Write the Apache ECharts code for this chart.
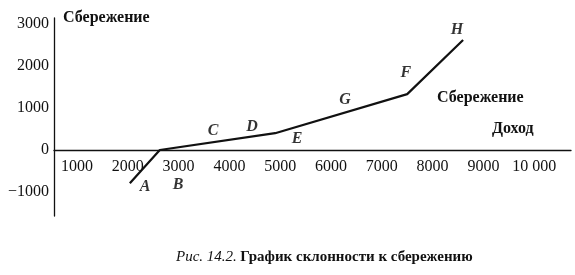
<!DOCTYPE html>
<html><head><meta charset="utf-8">
<script src="https://cdn.jsdelivr.net/npm/echarts@6/dist/echarts.min.js"></script>
<style>html,body{margin:0;padding:0;background:#fff}#c{width:575px;height:275px}</style>
</head><body><div id="c"></div>
<script>
// Data
const incomeX = [2040, 2630, 4900, 7500, 8600];
const savingY = [-790, 0, 400, 1330, 2620];
const pointLetters = ['A','B','C','D','E','F','G','H'];
const letterX = [2340, 2990, 3680, 4445, 5330, 7475, 6275, 8480];
const letterY = [-880, -835, 450, 550, 260, 1830, 1190, 2860];
const xTicks = [1000,2000,3000,4000,5000,6000,7000,8000,9000,10000];
const yTicks = [-1000,0,1000,2000,3000];
const yTitle = 'Сбережение';
const lineName = 'Сбережение';
const xTitle = 'Доход';
const captionItalic = 'Рис. 14.2.';
const captionBold = 'График склонности к сбережению';

const serif = '"Liberation Serif","DejaVu Serif",serif';
const Y_MIN = -1571, Y_MAX = 3143, GRID_H = 198;
const chart = echarts.init(document.getElementById('c'));
chart.setOption({
  animation:false,
  backgroundColor:'#fff',
  grid:{left:54, top:18, width:517, height:GRID_H, containLabel:false},
  xAxis:{type:'value', min:547, max:10724,
    offset: -Math.round(GRID_H * (0 - Y_MIN) / (Y_MAX - Y_MIN)),
    axisLine:{onZero:false, lineStyle:{color:'#111', width:1.3}},
    axisTick:{show:false}, splitLine:{show:false},
    axisLabel:{customValues:xTicks, margin:9, color:'#111', fontFamily:serif, fontSize:16,
      formatter:v=> v>=10000 ? (String(v).slice(0,-3)+' '+String(v).slice(-3)) : String(v)}},
  yAxis:{type:'value', min:Y_MIN, max:Y_MAX,
    axisLine:{show:true, onZero:false, lineStyle:{color:'#111', width:1.3}},
    axisTick:{show:false}, splitLine:{show:false},
    axisLabel:{customValues:yTicks, margin:5, color:'#111', fontFamily:serif, fontSize:16,
      formatter:v=> v<0 ? '\u2212'+Math.abs(v) : String(v)}},
  series:[
    {type:'line', data:incomeX.map((x,i)=>[x,savingY[i]]), symbol:'none',
      lineStyle:{color:'#111', width:2.2}, silent:true},
    {type:'scatter', data:letterX.map((x,i)=>({value:[x,letterY[i]], name:pointLetters[i]})),
      symbolSize:0, itemStyle:{color:'rgba(0,0,0,0)'}, silent:true,
      label:{show:true, position:'inside', formatter:p=>p.name, color:'#000',
        fontFamily:serif, fontStyle:'italic', fontWeight:'bold', fontSize:16}}
  ],
  graphic:[
    {type:'text', left:63, top:10, style:{text:yTitle, font:'bold 16px '+serif, fill:'#111'}},
    {type:'text', left:437, top:90, style:{text:lineName, font:'bold 16px '+serif, fill:'#111'}},
    {type:'text', left:492, top:121, style:{text:xTitle, font:'bold 16px '+serif, fill:'#111'}},
    {type:'text', left:176, top:250, style:{
      text:'{i|'+captionItalic+'} {b|'+captionBold+'}',
      rich:{i:{font:'italic 15px '+serif, fill:'#111'}, b:{font:'bold 15px '+serif, fill:'#111'}}}}
  ]
});
</script></body></html>
